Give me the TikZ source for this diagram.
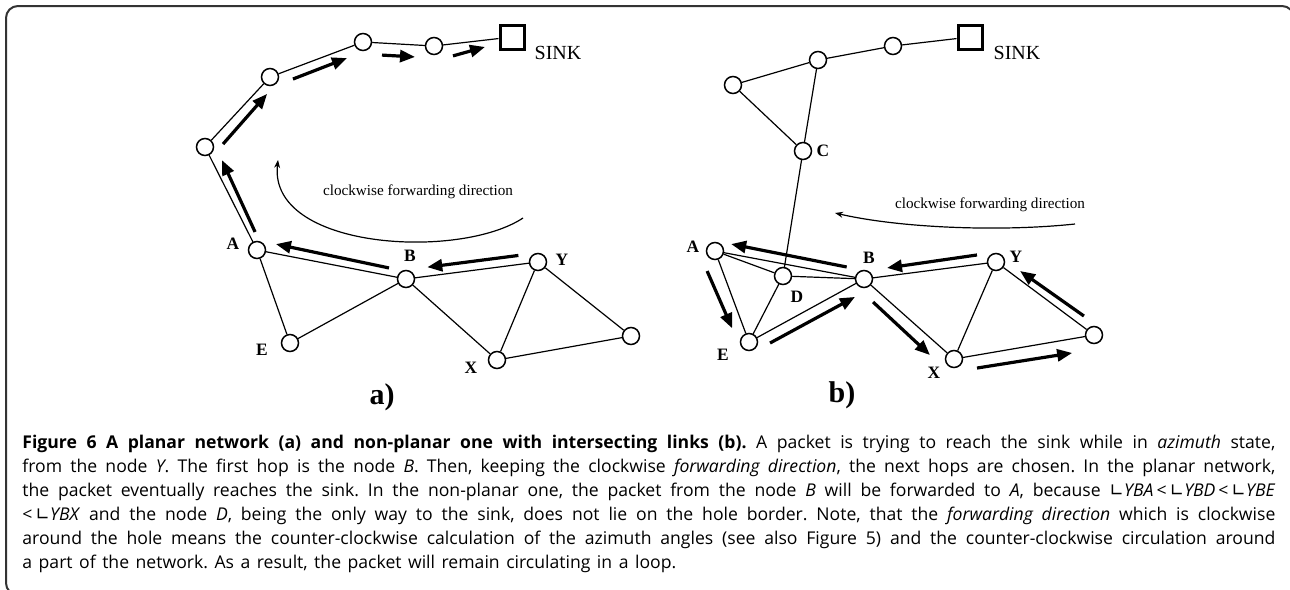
\documentclass[tikz,border=0pt]{standalone}
\usepackage{fontspec}
\setmainfont{Liberation Serif}
\newfontfamily\capfont{Open Sans}
\newfontfamily\symfont{DejaVu Sans}
\usetikzlibrary{arrows.meta,calc}
\newcommand\ang{{\symfont ∟}}
\frenchspacing

\begin{document}
\begin{tikzpicture}[x=0.5pt, y=-0.5pt,
    nd/.style={circle, draw, line width=0.75pt, fill=white, minimum size=8.5pt, inner sep=0pt},
    sinkbox/.style={rectangle, draw, line width=1.5pt, fill=white, minimum size=12pt, inner sep=0pt},
    link/.style={line width=0.6pt},
    hop/.style={line width=1.6pt, -{Triangle[length=7.5pt,width=6pt]}},
    fwd/.style={line width=0.6pt, -{Stealth[length=4pt,width=3pt]}},
    lbl/.style={inner sep=0pt, font=\bfseries\fontsize{8.7}{8.7}\selectfont},
    sinklbl/.style={inner sep=0pt, font=\fontsize{10}{10}\selectfont},
    dirlbl/.style={inner sep=0pt, font=\fontsize{7.6}{7.6}\selectfont},
    panel/.style={inner sep=0pt, font=\bfseries\fontsize{15}{15}\selectfont},
    capt/.style={anchor=base west, inner sep=0pt, text width=626.5pt, align=justify,
        font=\capfont\fontsize{8.8}{12}\selectfont},
    boxframe/.style={line width=1pt, draw=black!80, rounded corners=6pt}]
    \useasboundingbox (0,0) rectangle (1290,589);

    % Frame
    \draw[boxframe] (6,6) rectangle (1294,595);

    % (a) planar network
    \node[nd] (a1) at (205,147) {};
    \node[nd] (a2) at (270,77) {};
    \node[nd] (a3) at (363,42) {};
    \node[nd] (a4) at (434,46) {};
    \node[sinkbox] (aS) at (512,37) {};
    \node[nd] (aA) at (257,250) {};
    \node[nd] (aB) at (406,279) {};
    \node[nd] (aY) at (538,262) {};
    \node[nd] (aE) at (290,343) {};
    \node[nd] (aX) at (497,360) {};
    \node[nd] (aR) at (631,336) {};
    \foreach \u/\v in {aA/a1, a1/a2, a2/a3, a3/a4, a4/aS, aA/aB, aA/aE, aE/aB,
                       aB/aY, aB/aX, aX/aY, aY/aR, aX/aR}
        \draw[link] (\u) -- (\v);

    \node[sinklbl] (aSl) at (558,53) {SINK};
    \node[lbl] (aAl) at (233,244) {A};
    \node[lbl] (aBl) at (410,256) {B};
    \node[lbl] (aYl) at (562,260) {Y};
    \node[lbl] (aEl) at (262,350) {E};
    \node[lbl] (aXl) at (471,368) {X};
    \node[panel] (aP) at (382,397) {a)};

    % Hops along the hole border
    \foreach \s/\t/\fa/\oa/\fb/\ob in {aY/aB/.14/-4.5pt/.83/-4.5pt,
            aB/aA/.124/-3.8pt/.885/-4.7pt, aA/a1/.147/-3.2pt/.833/-4.6pt,
            a1/a2/.151/-5.6pt/.85/-4.7pt, a2/a3/.209/-5pt/.792/-4.7pt,
            a3/a4/.277/-6pt/.742/-6pt, a4/aS/.226/-6pt/.644/-3.4pt}
        \draw[hop] ($(\s)!\fa!(\t)!\oa!90:(\t)$) -- ($(\s)!\fb!(\t)!\ob!90:(\t)$);

    % Forwarding direction
    \coordinate (aCs) at (523,218);
    \coordinate (aCe) at (278,160);
    \draw[fwd] (aCs) .. controls (460,260) and (268,250) .. (aCe);
    \node[dirlbl] (aD) at (418,192) {clockwise forwarding direction};

    % (b) non-planar network
    \node[nd] (b1) at (733,85) {};
    \node[nd] (b2) at (818,60) {};
    \node[nd] (b3) at (893,46) {};
    \node[sinkbox] (bS) at (970,37) {};
    \node[nd] (bC) at (803,151) {};
    \node[nd] (bA) at (715,251) {};
    \node[nd] (bD) at (783,276) {};
    \node[nd] (bB) at (864,279) {};
    \node[nd] (bY) at (996,262) {};
    \node[nd] (bE) at (749,342) {};
    \node[nd] (bX) at (954,359) {};
    \node[nd] (bR) at (1094,335) {};
    \foreach \u/\v in {b1/b2, b2/b3, b3/bS, b1/bC, b2/bC, bC/bD, bA/bD, bA/bB,
                       bA/bE, bD/bB, bD/bE, bE/bB, bB/bY, bB/bX, bX/bY, bY/bR, bX/bR}
        \draw[link] (\u) -- (\v);

    \node[sinklbl] (bSl) at (1017,53) {SINK};
    \node[lbl] (bCl) at (823,151) {C};
    \node[lbl] (bAl) at (693,247) {A};
    \node[lbl] (bBl) at (869,258) {B};
    \node[lbl] (bDl) at (797,297) {D};
    \node[lbl] (bYl) at (1016,257) {Y};
    \node[lbl] (bEl) at (723,355) {E};
    \node[lbl] (bXl) at (934,373) {X};
    \node[panel] (bP) at (842,395) {b)};

    % Hops of the loop
    \foreach \s/\t/\fa/\oa/\fb/\ob in {bY/bB/.135/-4.7pt/.818/-4pt,
            bB/bA/.127/-4.3pt/.904/-4.9pt, bA/bE/.165/-7.2pt/.807/-5.5pt,
            bE/bB/.137/-5.5pt/.874/-5.7pt, bB/bX/.183/-5.6pt/.829/-6.5pt,
            bX/bR/.149/-6.4pt/.827/-7pt, bR/bY/.159/-4.6pt/.798/-3.6pt}
        \draw[hop] ($(\s)!\fa!(\t)!\oa!90:(\t)$) -- ($(\s)!\fb!(\t)!\ob!90:(\t)$);

    % Forwarding direction
    \coordinate (bCs) at (1075,224);
    \coordinate (bCe) at (835,213);
    \draw[fwd] (bCs) .. controls (1000,232) and (900,228) .. (bCe);
    \node[dirlbl] (bD) at (990,205) {clockwise forwarding direction};

    % Caption
    \node[capt] (cap) at (22,448) {\spaceskip=0.37em plus 0.1em minus 0.05em\relax
    \textbf{Figure 6 A planar network (a) and non-planar one with intersecting links (b).} A packet is trying to reach the sink while in \textit{azimuth} state,\linebreak
    from the node \textit{Y}. The first hop is the node \textit{B}. Then, keeping the clockwise \textit{forwarding direction}, the next hops are chosen. In the planar network,\linebreak
    the packet eventually reaches the sink. In the non-planar one, the packet from the node \textit{B} will be forwarded to \textit{A}, because \ang\textit{YBA}\,<\,\ang\textit{YBD}\,<\,\ang\textit{YBE}\linebreak
    <\,\ang\textit{YBX} and the node \textit{D}, being the only way to the sink, does not lie on the hole border. Note, that the \textit{forwarding direction} which is clockwise\linebreak
    around the hole means the counter-clockwise calculation of the azimuth angles (see also Figure 5) and the counter-clockwise circulation around\linebreak
    a part of the network. As a result, the packet will remain circulating in a loop.};
\end{tikzpicture}
\end{document}
